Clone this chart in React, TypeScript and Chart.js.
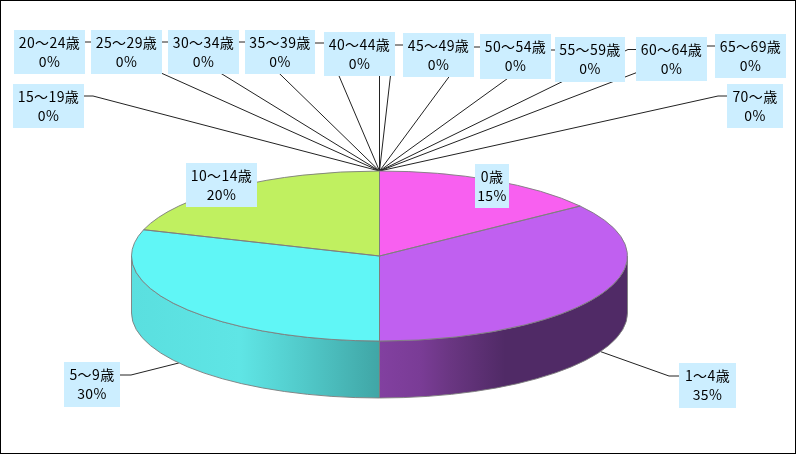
import { useEffect, useRef } from "react";
import { Chart, ArcElement, PieController } from "chart.js";
import type { Plugin } from "chart.js";

Chart.register(ArcElement, PieController);

// ─── data ─────────────────────────────────────────────
const AGE_LABELS = [
  "0歳", "1～4歳", "5～9歳", "10～14歳", "15～19歳", "20～24歳", "25～29歳", "30～34歳",
  "35～39歳", "40～44歳", "45～49歳", "50～54歳", "55～59歳", "60～64歳", "65～69歳", "70～歳",
];
const AGE_SHARES = [15, 35, 30, 20, 0, 0, 0, 0, 0, 0, 0, 0, 0, 0, 0, 0];
const SLICE_COLORS = [
  "#f860f0", "#c060f0", "#60f6f6", "#c0f060", "#f0a060", "#60a0f0", "#f06090", "#90f060",
  "#60f0b0", "#a060f0", "#f0d060", "#60d0f0", "#f060c0", "#b0f060", "#6080f0", "#f08060",
];

// ─── look ─────────────────────────────────────────────
const WIDTH = 796;
const HEIGHT = 454;
const RADIUS_X = 248;
const RADIUS_Y = 85;
const DEPTH = 57;
const EDGE = "rgba(125,125,125,0.9)";
const LEADER = "#222222";
const BOX = "#cceeff";
const FONT = "14px 'Noto Sans CJK JP'";

// wall shading per slice, [x, colour]
const WALL_STOPS: Record<number, [number, string][]> = {
  1: [[380, "#8240a0"], [420, "#7a3c96"], [450, "#6a3682"], [505, "#502a66"], [628, "#502a66"]],
  2: [[131, "#5adfdf"], [240, "#5fe5e5"], [300, "#52cbcb"], [379, "#40a6a6"]],
};

// label box [left, top, right, bottom] and leader elbow [x, y, stub end x], same order as AGE_LABELS
const LABEL_BOXES = [
  [475, 164, 509, 208], [679, 363, 736, 408], [64, 362, 120, 407], [186, 163, 257, 207],
  [13, 84, 84, 128], [14, 30, 85, 74], [91, 30, 162, 74], [168, 30, 239, 74],
  [245, 30, 315, 74], [324, 32, 395, 76], [403, 33, 474, 77], [480, 34, 551, 79],
  [555, 37, 625, 82], [636, 37, 707, 81], [715, 34, 786, 78], [727, 84, 783, 128],
];
const LEADER_ELBOWS = [
  [492, 186, 492], [669, 376, 679], [131, 375, 120], [234, 185, 234],
  [93, 96, 84], [92, 42, 85], [170, 42, 162], [247, 42, 239],
  [325, 43, 315], [379.5, 54, 379.5], [394, 45, 403], [471, 47, 480],
  [547, 50, 555], [628, 49.5, 636], [706, 46, 715], [718, 96, 727],
];

const pie3dPlugin: Plugin<"pie"> = {
  id: "pie3d",
  beforeDatasetsDraw(chart) {
    const ctx = chart.ctx;
    const arcs = chart.getDatasetMeta(0).data as any[];
    const cx = arcs[0].x;
    const cy = arcs[0].y;

    ctx.save();
    ctx.fillStyle = "#ffffff";
    ctx.fillRect(0, 0, WIDTH, HEIGHT);
    ctx.strokeStyle = "#000000";
    ctx.lineWidth = 1;
    ctx.strokeRect(0.5, 0.5, WIDTH - 1, HEIGHT - 1);

    // leader lines: from the middle of each slice, on the rim's lower edge when it is in front
    ctx.strokeStyle = LEADER;
    arcs.forEach((arc, i) => {
      const mid = (arc.startAngle + arc.endAngle) / 2;
      const x = cx + RADIUS_X * Math.cos(mid);
      const y = cy + RADIUS_Y * Math.sin(mid) + (Math.sin(mid) > 0 ? DEPTH : 0);
      const [ex, ey, sx] = LEADER_ELBOWS[i];
      ctx.beginPath();
      ctx.moveTo(x, y);
      ctx.lineTo(ex, ey);
      ctx.lineTo(sx, ey);
      ctx.stroke();
    });

    // side wall, only the part of each slice facing us
    arcs.forEach((arc, i) => {
      const from = Math.max(arc.startAngle, 0);
      const to = Math.min(arc.endAngle, Math.PI);
      if (to <= from) return;
      const stops = WALL_STOPS[i];
      const left = stops[0][0];
      const right = stops[stops.length - 1][0];
      const grad = ctx.createLinearGradient(left, 0, right, 0);
      stops.forEach(([x, color]) => grad.addColorStop((x - left) / (right - left), color));
      ctx.beginPath();
      ctx.ellipse(cx, cy, RADIUS_X, RADIUS_Y, 0, from, to);
      ctx.ellipse(cx, cy + DEPTH, RADIUS_X, RADIUS_Y, 0, to, from, true);
      ctx.closePath();
      ctx.fillStyle = grad;
      ctx.fill();
      ctx.strokeStyle = EDGE;
      ctx.stroke();
    });
    ctx.restore();

    // squash the library's circle into the top ellipse
    ctx.save();
    ctx.translate(cx, cy);
    ctx.scale(1, RADIUS_Y / RADIUS_X);
    ctx.translate(-cx, -cy);
  },
  afterDatasetsDraw(chart) {
    const ctx = chart.ctx;
    ctx.restore();

    const arcs = chart.getDatasetMeta(0).data as any[];
    const values = chart.data.datasets[0].data as number[];
    const total = values.reduce((a, b) => a + b, 0);

    ctx.save();
    ctx.strokeStyle = EDGE;
    ctx.lineWidth = 1;
    arcs.forEach((arc) => {
      if (arc.endAngle - arc.startAngle <= 0) return;
      ctx.beginPath();
      ctx.moveTo(arc.x, arc.y);
      ctx.ellipse(arc.x, arc.y, RADIUS_X, RADIUS_Y, 0, arc.startAngle, arc.endAngle);
      ctx.closePath();
      ctx.stroke();
    });

    ctx.font = FONT;
    ctx.letterSpacing = "0.4px";
    ctx.textAlign = "center";
    ctx.textBaseline = "middle";
    AGE_LABELS.forEach((label, i) => {
      const [l, t, r, b] = LABEL_BOXES[i];
      ctx.fillStyle = BOX;
      ctx.fillRect(l, t, r - l, b - t);
      ctx.fillStyle = "#000000";
      ctx.fillText(label, (l + r) / 2, t + 13);
      ctx.fillText(`${Math.round((values[i] / total) * 100)}%`, (l + r) / 2, t + 32);
    });
    ctx.restore();
  },
};

export default function App() {
  const canvasRef = useRef<HTMLCanvasElement>(null);

  useEffect(() => {
    if (!canvasRef.current) return;
    const chart = new Chart(canvasRef.current, {
      type: "pie",
      data: {
        labels: AGE_LABELS,
        datasets: [{
          data: AGE_SHARES,
          backgroundColor: SLICE_COLORS,
          borderWidth: 0,
          clip: false,
        }],
      },
      options: {
        responsive: false,
        animation: false,
        radius: RADIUS_X,
        layout: { padding: { top: 58, right: 37 } },
        plugins: { legend: { display: false }, tooltip: { enabled: false } },
      },
      plugins: [pie3dPlugin],
    });
    return () => chart.destroy();
  }, []);

  return (
    <div style={{ position: "fixed", left: 0, top: 0 }}>
      <canvas ref={canvasRef} width={WIDTH} height={HEIGHT} style={{ display: "block" }} />
    </div>
  );
}
